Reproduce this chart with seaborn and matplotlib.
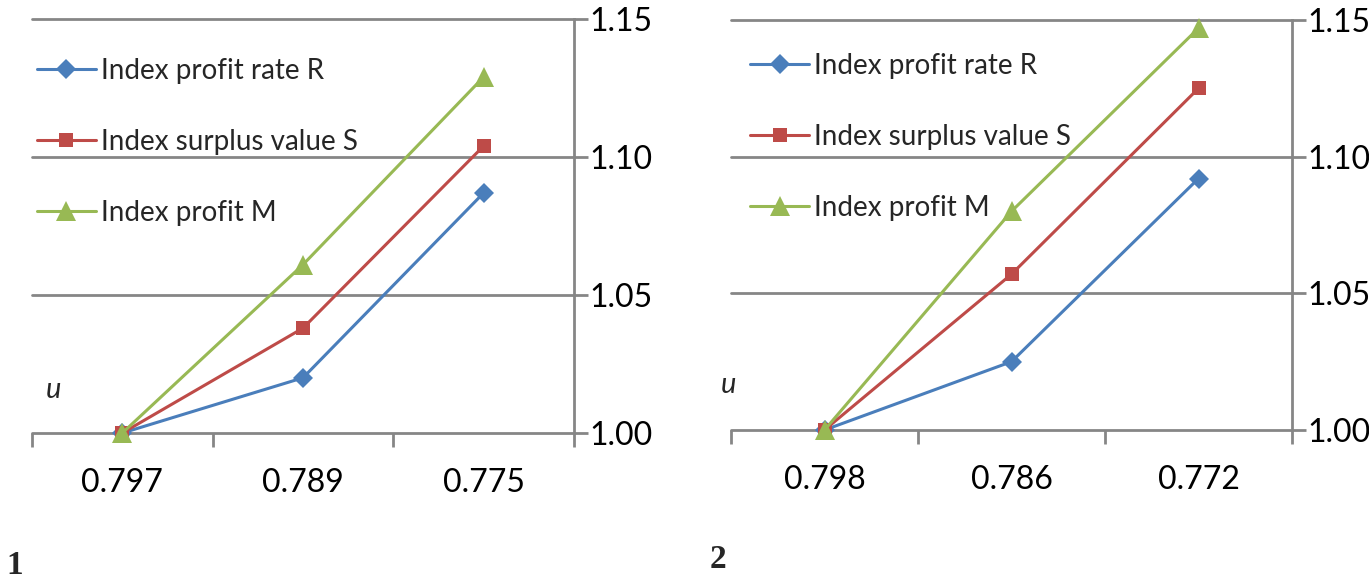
import matplotlib
matplotlib.use("Agg")
import matplotlib.pyplot as plt
import seaborn as sns
import pandas as pd
from matplotlib.ticker import FixedLocator, FormatStrFormatter

# ---- data ----
u_panel1 = ["0.797", "0.789", "0.775"]
u_panel2 = ["0.798", "0.786", "0.772"]
series_names = ["Index profit rate R", "Index surplus value S", "Index profit M"]
p1_R = [1.000, 1.020, 1.087]
p1_S = [1.000, 1.038, 1.104]
p1_M = [1.000, 1.061, 1.129]
p2_R = [1.000, 1.025, 1.092]
p2_S = [1.000, 1.057, 1.125]
p2_M = [1.000, 1.080, 1.147]
y_ticks = [1.00, 1.05, 1.10, 1.15]
panel_labels = ["1", "2"]

colors = ["#4A7EBB", "#BE4B48", "#98B954"]
markers = ["D", "s", "^"]
msizes = [10, 10.5, 14]

sns.set_theme(style="white")
plt.rcParams["font.family"] = ["Lato", "DejaVu Sans"]

fig = plt.figure(figsize=(13.69, 5.87), dpi=100)
ax1 = fig.add_axes([32/1369, 1-433/587, 542/1369, 414/587])
ax2 = fig.add_axes([731/1369, 1-430/587, 561/1369, 410/587])

GRID = "#868686"

def draw(ax, cats, R, S, M, leg_anchor, u_pos):
    df = pd.DataFrame({
        "u": cats * 3,
        "value": R + S + M,
        "series": [series_names[0]] * 3 + [series_names[1]] * 3 + [series_names[2]] * 3,
    })
    for i, name in enumerate(series_names):
        sub = df[df["series"] == name]
        sns.lineplot(data=sub, x="u", y="value", ax=ax, color=colors[i],
                     marker=markers[i], markersize=msizes[i], markeredgewidth=0,
                     linewidth=2.2, label=name, sort=False, clip_on=False, zorder=3)
    ax.set_xlim(-0.5, 2.5)
    ax.set_ylim(y_ticks[0], y_ticks[-1])
    ax.set_xlabel("")
    ax.set_ylabel("")
    for s in ["left", "top", "bottom"]:
        ax.spines[s].set_visible(False)
    ax.spines["right"].set_color(GRID)
    ax.spines["right"].set_linewidth(2)
    ax.yaxis.tick_right()
    ax.set_yticks(y_ticks)
    ax.yaxis.set_major_formatter(FormatStrFormatter("%.2f"))
    ax.tick_params(axis="y", which="major", right=True, left=False, direction="out",
                   length=10, width=2, color=GRID, labelsize=23, pad=1, labelcolor="black")
    ax.set_xticks([0, 1, 2])
    ax.set_xticklabels(cats)
    ax.xaxis.set_minor_locator(FixedLocator([-0.5, 0.5, 1.5, 2.5]))
    ax.tick_params(axis="x", which="major", bottom=True, length=0, labelsize=23, pad=25,
                   labelcolor="black")
    ax.tick_params(axis="x", which="minor", bottom=True, length=10, width=2,
                   color=GRID, direction="out")
    for yv in y_ticks:
        ax.axhline(yv, color=GRID, linewidth=2, zorder=1, clip_on=False)
    ax.legend(loc="upper left", bbox_to_anchor=leg_anchor, frameon=False,
              fontsize=20, handlelength=2.12, handletextpad=0.18,
              labelspacing=1.62, borderaxespad=0, borderpad=0)
    ax.text(u_pos[0], u_pos[1], "u", transform=ax.transAxes, fontsize=21,
            fontstyle="italic", ha="center", va="center")

draw(ax1, u_panel1, p1_R, p1_S, p1_M, (0.009, 0.907), (0.039, 0.104))
draw(ax2, u_panel2, p2_R, p2_S, p2_M, (0.034, 0.920), (-0.004, 0.11))

fig.text(15/1369, 1-565/587, panel_labels[0], fontsize=24, fontweight="bold",
         family="Liberation Serif", ha="center", va="center")
fig.text(718/1369, 1-560/587, panel_labels[1], fontsize=24, fontweight="bold",
         family="Liberation Serif", ha="center", va="center")

fig.savefig("out.png", dpi=100)
